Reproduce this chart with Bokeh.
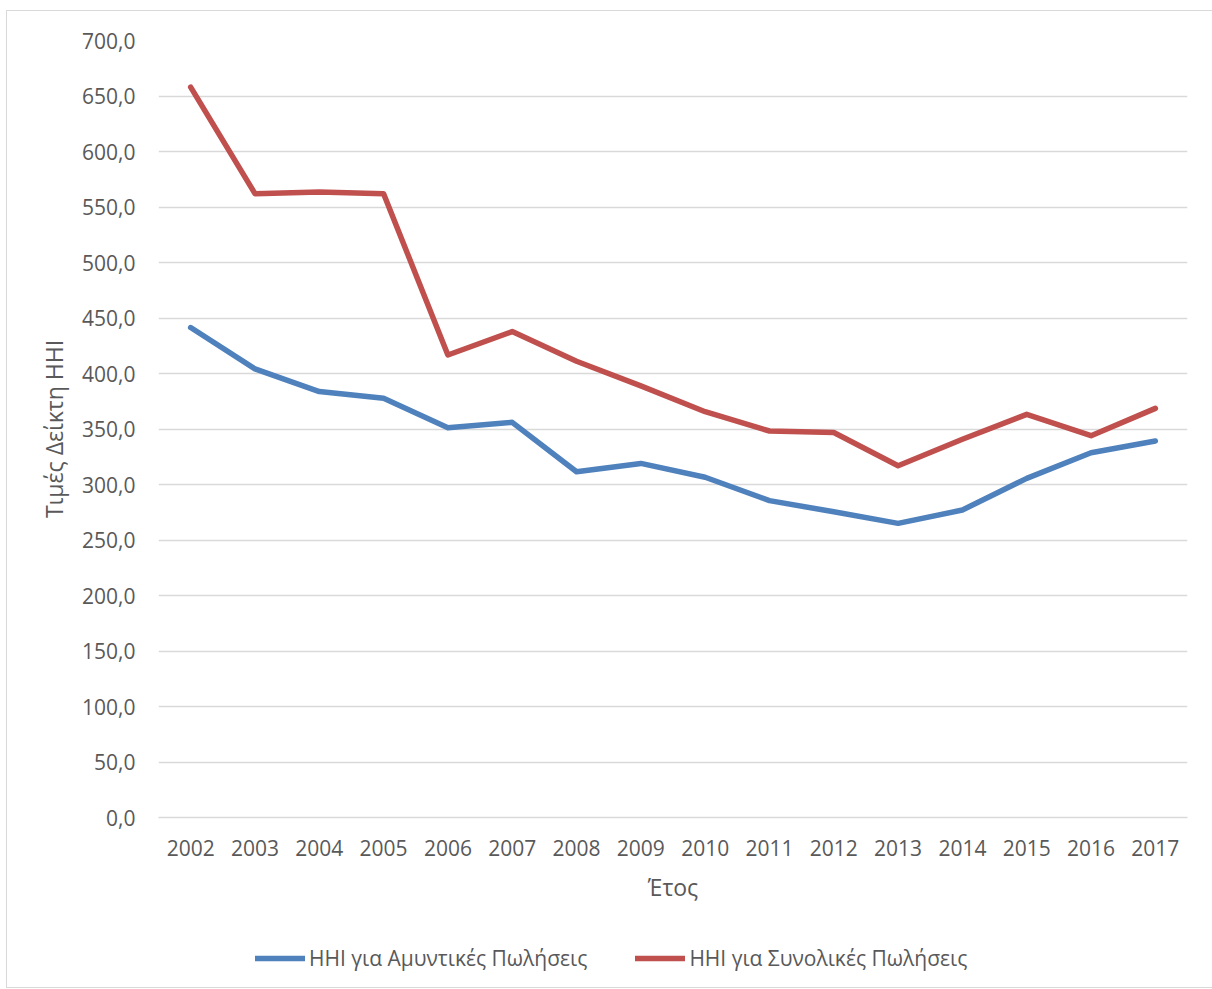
from bokeh.plotting import figure
from bokeh.layouts import column
from bokeh.models import (FactorRange, Range1d, FixedTicker, CustomJSTickFormatter,
                          Legend, LegendItem)
from bokeh.embed import file_html
from bokeh.resources import INLINE

years = ["2002", "2003", "2004", "2005", "2006", "2007", "2008", "2009",
         "2010", "2011", "2012", "2013", "2014", "2015", "2016", "2017"]
defense_hhi = [441.4, 404.1, 383.7, 377.7, 351.2, 356.0, 311.5, 319.0,
               306.5, 285.5, 275.4, 265.0, 277.0, 305.5, 328.6, 339.2]
total_hhi = [658.0, 562.0, 563.5, 562.0, 416.7, 437.8, 411.0, 388.8,
             365.6, 348.2, 346.8, 316.9, 340.7, 363.2, 344.0, 368.6]
y_ticks = [0, 50, 100, 150, 200, 250, 300, 350, 400, 450, 500, 550, 600, 650, 700]
series_names = ["HHI για Αμυντικές Πωλήσεις", "HHI για Συνολικές Πωλήσεις"]
y_title = "Τιμές Δείκτη HHI"
x_title = "Έτος"

FONT = "Open Sans"
TXT = "#595959"
BLUE = "#4f81bd"
RED = "#c0504d"

p = figure(x_range=FactorRange(*years, range_padding=0), y_range=Range1d(0, 700),
           frame_width=1029, frame_height=777,
           output_backend="svg", toolbar_location=None,
           min_border_left=151, min_border_right=25, min_border_top=29,
           min_border_bottom=100)
p.outline_line_color = None
p.background_fill_color = "white"
p.border_fill_color = "white"

p.line(years, defense_hhi, line_color=BLUE, line_width=5.5,
       line_cap="round", line_join="round")
p.line(years, total_hhi, line_color=RED, line_width=5.5,
       line_cap="round", line_join="round")

p.yaxis.ticker = FixedTicker(ticks=y_ticks)
p.yaxis.formatter = CustomJSTickFormatter(code="return tick.toFixed(1).replace('.', ',');")
p.ygrid.grid_line_color = "#d9d9d9"
p.ygrid.grid_line_width = 1.5
p.xgrid.grid_line_color = None

for ax in (p.xaxis, p.yaxis):
    ax.major_tick_in = 0
    ax.major_tick_out = 0
    ax.minor_tick_in = 0
    ax.minor_tick_out = 0
    ax.major_label_text_font = FONT
    ax.major_label_text_font_size = "21px"
    ax.major_label_text_color = TXT
    ax.axis_label_text_font = FONT
    ax.axis_label_text_font_size = "23px"
    ax.axis_label_text_color = TXT
    ax.axis_label_text_font_style = "normal"

p.yaxis.axis_line_color = None
p.xaxis.axis_line_color = "#d9d9d9"
p.xaxis.axis_line_width = 1.5
p.yaxis.major_label_standoff = 23
p.xaxis.major_label_standoff = 22
p.yaxis.axis_label = y_title
p.xaxis.axis_label = x_title
p.yaxis.axis_label_standoff = 9
p.xaxis.axis_label_standoff = 12

# legend strip below the chart (its frame is aligned with the chart's frame);
# the series are drawn here outside the visible range only to feed the legend glyphs
lg = figure(width=1205, height=70, output_backend="svg", toolbar_location=None,
            x_range=Range1d(0, 1), y_range=Range1d(0, 1),
            x_axis_location=None, y_axis_location=None, min_border=0)
lg.outline_line_color = None
lg.grid.visible = False
idx = list(range(len(years)))
lb = lg.line(x=idx, y=defense_hhi, line_color=BLUE, line_width=5.5, line_cap="round")
lr = lg.line(x=idx, y=total_hhi, line_color=RED, line_width=5.5, line_cap="round")
legend = Legend(items=[LegendItem(label=series_names[0], renderers=[lb]),
                       LegendItem(label=series_names[1], renderers=[lr])],
                orientation="horizontal", location=(97, 15),
                label_text_font=FONT, label_text_font_size="21px",
                label_text_color=TXT, glyph_width=50, glyph_height=20,
                label_standoff=4, spacing=48, border_line_color=None,
                background_fill_alpha=0, margin=0, padding=0)
lg.add_layout(legend, "center")

layout = column(p, lg, spacing=0)
layout.styles = {"border": "1px solid #d9d9d9", "margin-left": "6px", "margin-top": "10px"}

open("out.html", "w").write(file_html(layout, INLINE))
